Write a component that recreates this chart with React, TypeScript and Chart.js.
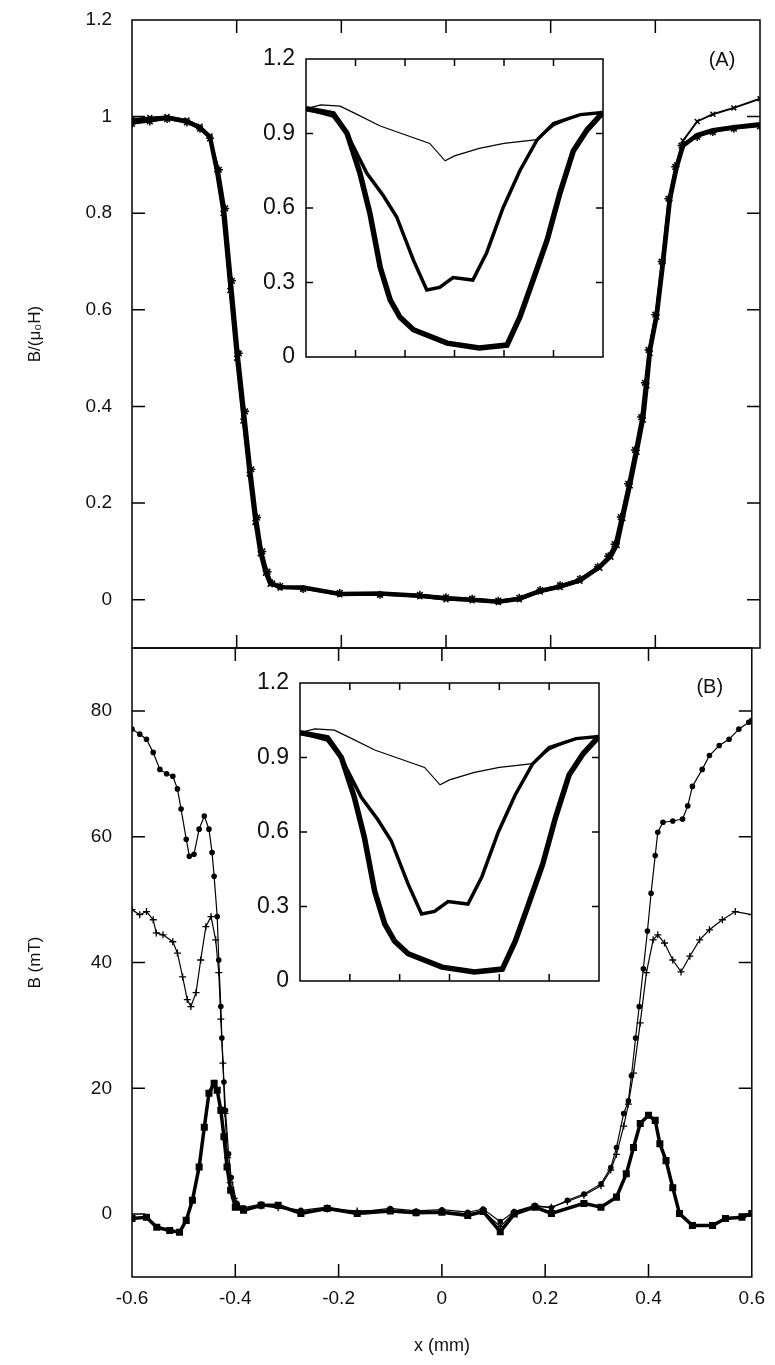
import { useEffect, useRef } from 'react';
import { Chart, registerables } from 'chart.js';

Chart.register(...registerables);

const FONT = '"Liberation Sans", Arial, sans-serif';
Chart.defaults.font.family = FONT;
Chart.defaults.color = '#111';

// ---- axis ticks ----
const mainXLabels = [-0.6, -0.4, -0.2, 0, 0.2, 0.4, 0.6];
const mainXInner = [-0.4, -0.2, 0, 0.2, 0.4];
const topYLabels = [0, 0.2, 0.4, 0.6, 0.8, 1, 1.2];
const bottomYLabels = [0, 20, 40, 60, 80];
const insetYLabels = [0, 0.3, 0.6, 0.9, 1.2];
const insetXInner = [1, 2, 3, 4, 5];

// ---- panel (A): B/(mu0 H) vs x ----
const topS1X = [-0.6, -0.566, -0.533, -0.495, -0.47, -0.451, -0.438, -0.426, -0.413, -0.4, -0.388, -0.376, -0.365, -0.355, -0.345, -0.336, -0.317, -0.273, -0.203, -0.126, -0.05, 0, 0.05, 0.1, 0.14, 0.18, 0.218, 0.256, 0.294, 0.315, 0.327, 0.338, 0.352, 0.365, 0.377, 0.384, 0.39, 0.403, 0.415, 0.428, 0.441, 0.453, 0.48, 0.51, 0.55, 0.6];
const topS1Y = [0.99, 0.993, 0.998, 0.99, 0.977, 0.958, 0.89, 0.81, 0.66, 0.51, 0.39, 0.27, 0.17, 0.1, 0.058, 0.034, 0.026, 0.025, 0.012, 0.013, 0.008, 0.003, 0.0, -0.004, 0.002, 0.018, 0.027, 0.04, 0.068, 0.09, 0.115, 0.171, 0.24, 0.31, 0.378, 0.449, 0.517, 0.59, 0.7, 0.83, 0.896, 0.94, 0.962, 0.972, 0.978, 0.984];
const topS2X = [-0.6, -0.566, -0.533, -0.495, -0.47, -0.451, -0.434, -0.422, -0.409, -0.396, -0.384, -0.372, -0.361, -0.351, -0.341, -0.332, -0.317, -0.273, -0.203, -0.126, -0.05, 0, 0.05, 0.1, 0.14, 0.18, 0.218, 0.256, 0.29, 0.31, 0.322, 0.334, 0.348, 0.361, 0.373, 0.38, 0.387, 0.4, 0.412, 0.425, 0.438, 0.45, 0.48, 0.51, 0.55, 0.6];
const topS2Y = [0.985, 0.99, 0.995, 0.988, 0.975, 0.955, 0.89, 0.81, 0.66, 0.51, 0.39, 0.27, 0.17, 0.1, 0.058, 0.034, 0.028, 0.022, 0.014, 0.01, 0.01, 0.005, 0.002, -0.002, 0.004, 0.02, 0.03, 0.043, 0.068, 0.09, 0.115, 0.171, 0.24, 0.31, 0.378, 0.449, 0.517, 0.59, 0.7, 0.83, 0.896, 0.94, 0.958, 0.968, 0.975, 0.98];
const topS3X = [-0.6, -0.566, -0.533, -0.495, -0.47, -0.451, -0.438, -0.426, -0.413, -0.4, -0.388, -0.376, -0.365, -0.355, -0.345, -0.336, -0.317, -0.273, -0.203, -0.126, -0.05, 0, 0.05, 0.1, 0.14, 0.18, 0.218, 0.256, 0.294, 0.315, 0.327, 0.338, 0.352, 0.365, 0.377, 0.384, 0.39, 0.403, 0.415, 0.428, 0.441, 0.453, 0.48, 0.51, 0.55, 0.6];
const topS3Y = [0.995, 0.998, 1.0, 0.993, 0.98, 0.96, 0.89, 0.8, 0.64, 0.5, 0.37, 0.26, 0.16, 0.095, 0.055, 0.032, 0.024, 0.023, 0.01, 0.011, 0.006, 0.0, -0.002, -0.006, 0.0, 0.016, 0.025, 0.038, 0.065, 0.088, 0.112, 0.168, 0.236, 0.305, 0.372, 0.443, 0.51, 0.585, 0.7, 0.83, 0.9, 0.95, 0.99, 1.005, 1.018, 1.037];

// ---- panel (B): B (mT) vs x ----
const botS1X = [-0.6, -0.585, -0.572, -0.559, -0.546, -0.533, -0.521, -0.512, -0.505, -0.495, -0.489, -0.48, -0.47, -0.46, -0.451, -0.445, -0.441, -0.435, -0.432, -0.428, -0.426, -0.422, -0.419, -0.413, -0.408, -0.397, -0.385, -0.35, -0.317, -0.273, -0.222, -0.164, -0.1, -0.05, 0, 0.05, 0.08, 0.113, 0.14, 0.18, 0.212, 0.243, 0.275, 0.308, 0.327, 0.338, 0.352, 0.361, 0.367, 0.375, 0.382, 0.39, 0.398, 0.405, 0.413, 0.418, 0.428, 0.447, 0.466, 0.476, 0.485, 0.504, 0.518, 0.537, 0.556, 0.575, 0.594, 0.6];
const botS1Y = [77.1, 76.3, 75.5, 73.4, 70.7, 70.0, 69.6, 67.6, 64.4, 59.6, 56.9, 57.2, 61.2, 63.3, 61.2, 57.5, 53.7, 47.3, 40.4, 33, 28, 21, 16.5, 9.6, 5.8, 1.7, 1.0, 1.6, 1.2, 0.6, 1.1, 0.3, 0.9, 0.5, 0.7, 0.3, 0.8, -1.2, 0.4, 1.4, 1.0, 2.2, 3.2, 4.8, 7.4, 10.6, 16, 18, 22, 28, 33, 39, 45, 51, 57, 60.7, 62.3, 62.5, 62.8, 64.9, 68, 70.7, 72.9, 74.5, 75.5, 77.1, 78.2, 78.5];
const botS2X = [-0.6, -0.585, -0.572, -0.559, -0.553, -0.54, -0.521, -0.512, -0.502, -0.493, -0.486, -0.476, -0.467, -0.457, -0.447, -0.438, -0.432, -0.428, -0.424, -0.42, -0.415, -0.41, -0.402, -0.392, -0.38, -0.35, -0.317, -0.273, -0.222, -0.164, -0.1, -0.05, 0, 0.05, 0.08, 0.113, 0.14, 0.18, 0.212, 0.243, 0.275, 0.308, 0.327, 0.338, 0.352, 0.361, 0.371, 0.384, 0.396, 0.409, 0.418, 0.431, 0.447, 0.463, 0.48, 0.499, 0.518, 0.543, 0.568, 0.6];
const botS2Y = [48.4, 47.6, 48.1, 46.8, 44.7, 44.4, 43.3, 41.5, 37.7, 34.1, 33.0, 35.2, 40.4, 45.7, 47.3, 43.6, 38.4, 31, 24, 16, 9, 5, 2.5, 1.2, 0.8, 1.3, 1.0, 0.4, 0.8, 0.5, 0.6, 0.2, 0.4, 0.0, 0.5, -2.0, 0.3, 1.2, 1.1, 2.0, 3.0, 4.5, 7.0, 9.5, 14, 17.5, 22.4, 30.4, 38.4, 43.6, 44.4, 43.1, 40.4, 38.5, 41, 43.6, 45.2, 46.8, 48.1, 47.6];
const botS3X = [-0.6, -0.572, -0.552, -0.527, -0.508, -0.495, -0.483, -0.47, -0.46, -0.451, -0.441, -0.435, -0.428, -0.422, -0.416, -0.409, -0.4, -0.384, -0.35, -0.317, -0.273, -0.222, -0.164, -0.1, -0.05, 0, 0.05, 0.08, 0.113, 0.14, 0.18, 0.212, 0.275, 0.308, 0.338, 0.357, 0.371, 0.384, 0.4, 0.413, 0.422, 0.434, 0.447, 0.46, 0.485, 0.524, 0.549, 0.581, 0.6];
const botS3Y = [-0.7, -0.5, -2.1, -2.6, -2.9, -1.0, 2.2, 7.5, 13.8, 19.2, 20.8, 19.7, 16.5, 12.3, 7.5, 3.8, 1.1, 0.6, 1.4, 1.4, 0.1, 0.9, 0.1, 0.5, 0.2, 0.3, -0.2, 0.4, -2.8, 0, 1.1, 0.1, 1.7, 1.1, 2.7, 6.4, 10.6, 14.4, 15.7, 14.9, 11.2, 8.5, 4.2, 0.1, -1.8, -1.8, -0.7, -0.5, 0.1];

// ---- insets (same curves in both panels), x in arbitrary units 0..6 ----
const insetThinX = [0, 0.3, 0.69, 1.0, 1.5, 2.0, 2.5, 2.81, 3.0, 3.5, 4.0, 4.67, 5.0, 5.5, 6];
const insetThinY = [1.0, 1.015, 1.01, 0.98, 0.93, 0.895, 0.86, 0.79, 0.81, 0.84, 0.86, 0.875, 0.93, 0.975, 0.985];
const insetMidX = [0, 0.55, 0.83, 0.95, 1.23, 1.56, 1.83, 2.17, 2.44, 2.7, 2.97, 3.37, 3.65, 3.98, 4.32, 4.67, 5.0, 5.54, 6];
const insetMidY = [1.0, 0.97, 0.9, 0.85, 0.74, 0.65, 0.565, 0.39, 0.27, 0.28, 0.32, 0.31, 0.42, 0.6, 0.75, 0.875, 0.94, 0.976, 0.985];
const insetThickX = [0, 0.55, 0.83, 1.09, 1.29, 1.5, 1.7, 1.9, 2.17, 2.85, 3.5, 4.06, 4.32, 4.57, 4.87, 5.13, 5.4, 5.68, 6];
const insetThickY = [1.0, 0.98, 0.9, 0.74, 0.58, 0.36, 0.23, 0.16, 0.11, 0.056, 0.036, 0.048, 0.16, 0.3, 0.47, 0.66, 0.83, 0.915, 0.985];

const pts = (xs: number[], ys: number[]) => xs.map((x, i) => ({ x, y: ys[i] }));
const fmt = (v: number | string) => String(+Number(v).toFixed(2));
const setTicks = (vals: number[]) => (s: any) => {
  s.ticks = vals.map((value) => ({ value }));
};
const noGrid = { display: false, drawTicks: false };

// frame + inward ticks on all four sides
function frame(opts: { xTicks: number[]; yTicks: number[]; len: number; tag?: string; tagDx?: number; tagDy?: number; fill?: boolean }) {
  return {
    id: 'frame',
    beforeDraw(chart: any) {
      if (!opts.fill) return;
      const a = chart.chartArea;
      chart.ctx.save();
      chart.ctx.fillStyle = '#fff';
      chart.ctx.fillRect(a.left, a.top, a.right - a.left, a.bottom - a.top);
      chart.ctx.restore();
    },
    afterDatasetsDraw(chart: any) {
      const { ctx, chartArea: a, scales } = chart;
      ctx.save();
      ctx.strokeStyle = '#000';
      ctx.lineWidth = 1.5;
      ctx.strokeRect(a.left, a.top, a.right - a.left, a.bottom - a.top);
      ctx.beginPath();
      for (const v of opts.xTicks) {
        const px = scales.x.getPixelForValue(v);
        ctx.moveTo(px, a.bottom);
        ctx.lineTo(px, a.bottom - opts.len);
        ctx.moveTo(px, a.top);
        ctx.lineTo(px, a.top + opts.len);
      }
      for (const v of opts.yTicks) {
        const py = scales.y.getPixelForValue(v);
        ctx.moveTo(a.left, py);
        ctx.lineTo(a.left + opts.len, py);
        ctx.moveTo(a.right, py);
        ctx.lineTo(a.right - opts.len, py);
      }
      ctx.stroke();
      if (opts.tag) {
        ctx.fillStyle = '#111';
        ctx.font = `20px ${FONT}`;
        ctx.textAlign = 'center';
        ctx.textBaseline = 'middle';
        ctx.fillText(opts.tag, a.right - (opts.tagDx ?? 38), a.top + (opts.tagDy ?? 40));
      }
      ctx.restore();
    },
  };
}

const base = {
  responsive: false,
  animation: false as const,
  events: [] as any[],
  plugins: { legend: { display: false }, tooltip: { enabled: false } },
};

function buildTop(): any {
  return {
    type: 'line',
    data: {
      datasets: [
        { data: pts(topS1X, topS1Y), borderColor: '#000', borderWidth: 4.5, pointRadius: 0 },
        { data: pts(topS2X, topS2Y), borderColor: '#000', borderWidth: 2, pointStyle: 'star', pointRadius: 4, pointBorderColor: '#000', pointBorderWidth: 1.5 },
        { data: pts(topS3X, topS3Y), borderColor: '#000', borderWidth: 2, pointStyle: 'crossRot', pointRadius: 3.5, pointBorderColor: '#000', pointBorderWidth: 1.5 },
      ],
    },
    options: {
      ...base,
      layout: { padding: { left: 0, top: 32, right: 15, bottom: 32 } },
      scales: {
        x: { type: 'linear', min: -0.6, max: 0.6, display: false },
        y: {
          type: 'linear', min: -0.1, max: 1.2,
          grid: noGrid, border: { display: false },
          afterBuildTicks: setTicks(topYLabels),
          afterFit: (s: any) => { s.width = 132; },
          ticks: { padding: 20, font: { size: 19 }, color: '#111', callback: fmt },
          title: { display: true, text: 'B/(μ₀H)', font: { size: 17 }, color: '#111', padding: { top: 25, bottom: 0 } },
        },
      },
    },
    plugins: [frame({ xTicks: mainXInner, yTicks: topYLabels.slice(0, -1), len: 13, tag: '(A)', tagDx: 38, tagDy: 40 })],
  };
}

function buildBottom(): any {
  return {
    type: 'line',
    data: {
      datasets: [
        { data: pts(botS1X, botS1Y), borderColor: '#000', borderWidth: 1.2, pointStyle: 'circle', pointRadius: 2.2, pointBackgroundColor: '#000', pointBorderColor: '#000' },
        { data: pts(botS2X, botS2Y), borderColor: '#000', borderWidth: 1.2, pointStyle: 'cross', pointRadius: 3.5, pointBorderColor: '#000', pointBorderWidth: 1.3 },
        { data: pts(botS3X, botS3Y), borderColor: '#000', borderWidth: 3.5, pointStyle: 'rect', pointRadius: 2.5, pointBackgroundColor: '#000', pointBorderColor: '#000' },
      ],
    },
    options: {
      ...base,
      layout: { padding: { left: 0, top: 32, right: 15, bottom: 0 } },
      scales: {
        x: {
          type: 'linear', min: -0.6, max: 0.6,
          grid: noGrid, border: { display: false },
          afterBuildTicks: setTicks(mainXLabels),
          afterFit: (s: any) => { s.height = 88; },
          ticks: { padding: 10, font: { size: 19 }, color: '#111', autoSkip: false, maxRotation: 0, callback: fmt },
          title: { display: true, text: 'x (mm)', font: { size: 18 }, color: '#111', padding: { top: 0, bottom: 8 } },
        },
        y: {
          type: 'linear', min: -10, max: 90,
          grid: noGrid, border: { display: false },
          afterBuildTicks: setTicks(bottomYLabels),
          afterFit: (s: any) => { s.width = 132; },
          ticks: { padding: 20, font: { size: 19 }, color: '#111', callback: fmt },
          title: { display: true, text: 'B (mT)', font: { size: 17 }, color: '#111', padding: { top: 25, bottom: 0 } },
        },
      },
    },
    plugins: [frame({ xTicks: mainXInner, yTicks: bottomYLabels, len: 13, tag: '(B)', tagDx: 42, tagDy: 39 })],
  };
}

function buildInset(): any {
  return {
    type: 'line',
    data: {
      datasets: [
        { data: pts(insetThinX, insetThinY), borderColor: '#000', borderWidth: 1.2, pointRadius: 0 },
        { data: pts(insetMidX, insetMidY), borderColor: '#000', borderWidth: 3.5, pointRadius: 0 },
        { data: pts(insetThickX, insetThickY), borderColor: '#000', borderWidth: 5.5, pointRadius: 0 },
      ],
    },
    options: {
      ...base,
      layout: { padding: { left: 0, top: 26, right: 7, bottom: 26 } },
      scales: {
        x: { type: 'linear', min: 0, max: 6, display: false },
        y: {
          type: 'linear', min: 0, max: 1.2,
          grid: noGrid, border: { display: false },
          afterBuildTicks: setTicks(insetYLabels),
          afterFit: (s: any) => { s.width = 56; },
          ticks: { padding: 11, font: { size: 23 }, color: '#111', callback: fmt },
        },
      },
    },
    plugins: [frame({ xTicks: insetXInner, yTicks: insetYLabels.slice(1, -1), len: 7, fill: true })],
  };
}

function ChartBox({ left, top, width, height, build }: { left: number; top: number; width: number; height: number; build: () => any }) {
  const ref = useRef<HTMLCanvasElement>(null);
  useEffect(() => {
    if (!ref.current) return;
    const chart = new Chart(ref.current, build());
    return () => chart.destroy();
  }, [build]);
  return <canvas ref={ref} width={width} height={height} style={{ position: 'absolute', left, top, width, height }} />;
}

export default function App() {
  return (
    <div style={{ position: 'absolute', left: 0, top: 0, width: 775, height: 1365, background: '#fff', overflow: 'hidden' }}>
      <ChartBox left={0} top={-12} width={775} height={692} build={buildTop} />
      <ChartBox left={0} top={616} width={775} height={749} build={buildBottom} />
      <ChartBox left={250} top={33} width={360} height={350} build={buildInset} />
      <ChartBox left={244} top={657} width={362} height={350} build={buildInset} />
    </div>
  );
}
